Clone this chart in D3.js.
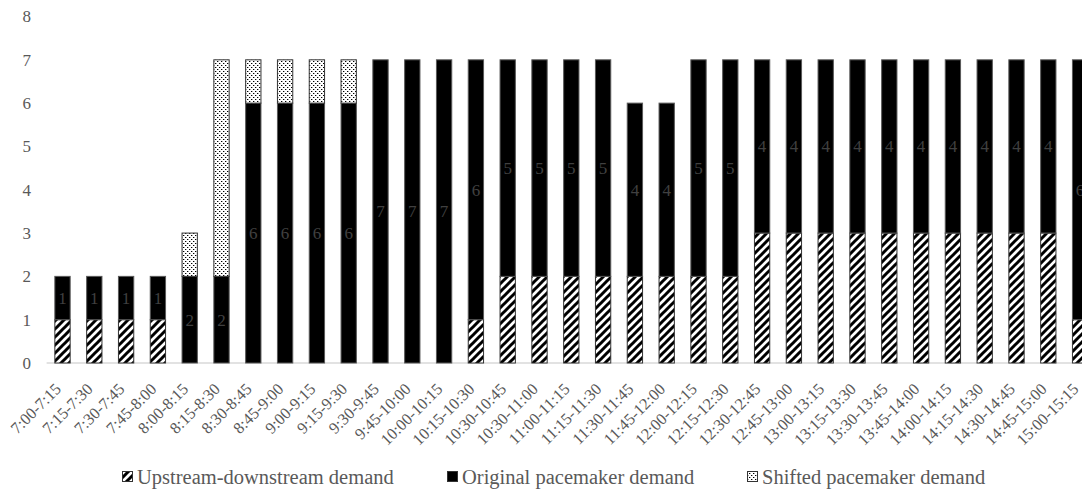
<!DOCTYPE html>
<html><head><meta charset="utf-8">
<script src="https://cdn.jsdelivr.net/npm/d3@7/dist/d3.min.js"></script>
<style>body{margin:0;background:#fff;} svg{display:block;}</style>
</head><body><svg id="chart" width="1082" height="490"></svg>
<script>
const categories = ["7:00-7:15","7:15-7:30","7:30-7:45","7:45-8:00","8:00-8:15","8:15-8:30","8:30-8:45","8:45-9:00","9:00-9:15","9:15-9:30","9:30-9:45","9:45-10:00","10:00-10:15","10:15-10:30","10:30-10:45","10:30-11:00","11:00-11:15","11:15-11:30","11:30-11:45","11:45-12:00","12:00-12:15","12:15-12:30","12:30-12:45","12:45-13:00","13:00-13:15","13:15-13:30","13:30-13:45","13:45-14:00","14:00-14:15","14:15-14:30","14:30-14:45","14:45-15:00","15:00-15:15"];
const upstreamDemand = [1,1,1,1,0,0,0,0,0,0,0,0,0,1,2,2,2,2,2,2,2,2,3,3,3,3,3,3,3,3,3,3,1];
const originalDemand = [1,1,1,1,2,2,6,6,6,6,7,7,7,6,5,5,5,5,4,4,5,5,4,4,4,4,4,4,4,4,4,4,6];
const shiftedDemand  = [0,0,0,0,1,5,1,1,1,1,0,0,0,0,0,0,0,0,0,0,0,0,0,0,0,0,0,0,0,0,0,0,0];
const yTicks = [0,1,2,3,4,5,6,7,8];
const seriesNames = ["Upstream-downstream demand","Original pacemaker demand","Shifted pacemaker demand"];

const svg = d3.select("#chart");
const FONT = "'Liberation Serif','Times New Roman',serif";

// patterns
const defs = svg.append("defs");
const hatch = defs.append("pattern").attr("id","hatch").attr("patternUnits","userSpaceOnUse").attr("width",8).attr("height",8);
hatch.append("rect").attr("width",8).attr("height",8).attr("fill","#fff");
hatch.append("path").attr("d","M-2,2 L2,-2 M0,8 L8,0 M6,10 L10,6").attr("stroke","#000").attr("stroke-width",3);
const dots = defs.append("pattern").attr("id","dots").attr("patternUnits","userSpaceOnUse").attr("width",4).attr("height",4);
dots.append("rect").attr("width",4).attr("height",4).attr("fill","#fff");
[[1,1,"#000"],[3,3,"#000"],[2,1,"#aaa"],[0,3,"#aaa"]].forEach(p=>
  dots.append("rect").attr("x",p[0]).attr("y",p[1]).attr("width",1).attr("height",1).attr("fill",p[2]));

const fills = ["url(#hatch)","#000","url(#dots)"];

const x = d3.scaleBand().domain(categories).range([46.6, 1096]).paddingInner(0.487).paddingOuter(0.2435);
const y = d3.scaleLinear().domain([0,8]).range([363, 16.5]);

// y labels
svg.append("g").selectAll("text").data(yTicks).join("text")
  .attr("x",31).attr("y",d=>y(d)).attr("dy","0.35em")
  .attr("text-anchor","end").attr("font-family",FONT).attr("font-size",17).attr("fill","#595959")
  .text(d=>d);

// baseline
svg.append("line").attr("x1",46.6).attr("x2",1082).attr("y1",y(0)).attr("y2",y(0))
  .attr("stroke","#d9d9d9").attr("stroke-width",1.3);

// stacked data
const rows = categories.map((c,i)=>({cat:c, u:upstreamDemand[i], o:originalDemand[i], s:shiftedDemand[i]}));
const stack = d3.stack().keys(["u","o","s"])(rows);

const gBars = svg.append("g");
stack.forEach((layer,li)=>{
  gBars.append("g").selectAll("rect").data(layer.filter(d=>d[1]-d[0]>0)).join("rect")
    .attr("x",d=>x(d.data.cat)+0.5).attr("width",x.bandwidth()-1)
    .attr("y",d=>y(d[1])).attr("height",d=>y(d[0])-y(d[1]))
    .attr("fill",fills[li]).attr("stroke",li===1?"#595959":"#333").attr("stroke-width",1);
});

// data labels on original series
svg.append("g").selectAll("text").data(stack[1].filter(d=>d[1]-d[0]>0)).join("text")
  .attr("x",d=>x(d.data.cat)+x.bandwidth()/2).attr("y",d=>y((d[0]+d[1])/2)).attr("dy","0.35em")
  .attr("text-anchor","middle").attr("font-family",FONT).attr("font-size",17).attr("fill","#404040")
  .text(d=>d[1]-d[0]);

// x labels
svg.append("g").selectAll("text").data(categories).join("text")
  .attr("transform",d=>`translate(${x(d)+x.bandwidth()/2-0.5},${y(0)+27}) rotate(-45)`)
  .attr("text-anchor","end").attr("font-family",FONT).attr("font-size",16.3).attr("fill","#595959")
  .text(d=>d);

// legend
const legX = [122, 447, 747];
const leg = svg.append("g");
seriesNames.forEach((n,i)=>{
  leg.append("rect").attr("x",legX[i]+0.5).attr("y",471.5).attr("width",10).attr("height",10)
    .attr("fill",fills[i]).attr("stroke","#333").attr("stroke-width",1);
  leg.append("text").attr("x",legX[i]+15).attr("y",477).attr("dy","0.35em")
    .attr("font-family",FONT).attr("font-size",20.5).attr("fill","#595959").text(n);
});
</script></body></html>
